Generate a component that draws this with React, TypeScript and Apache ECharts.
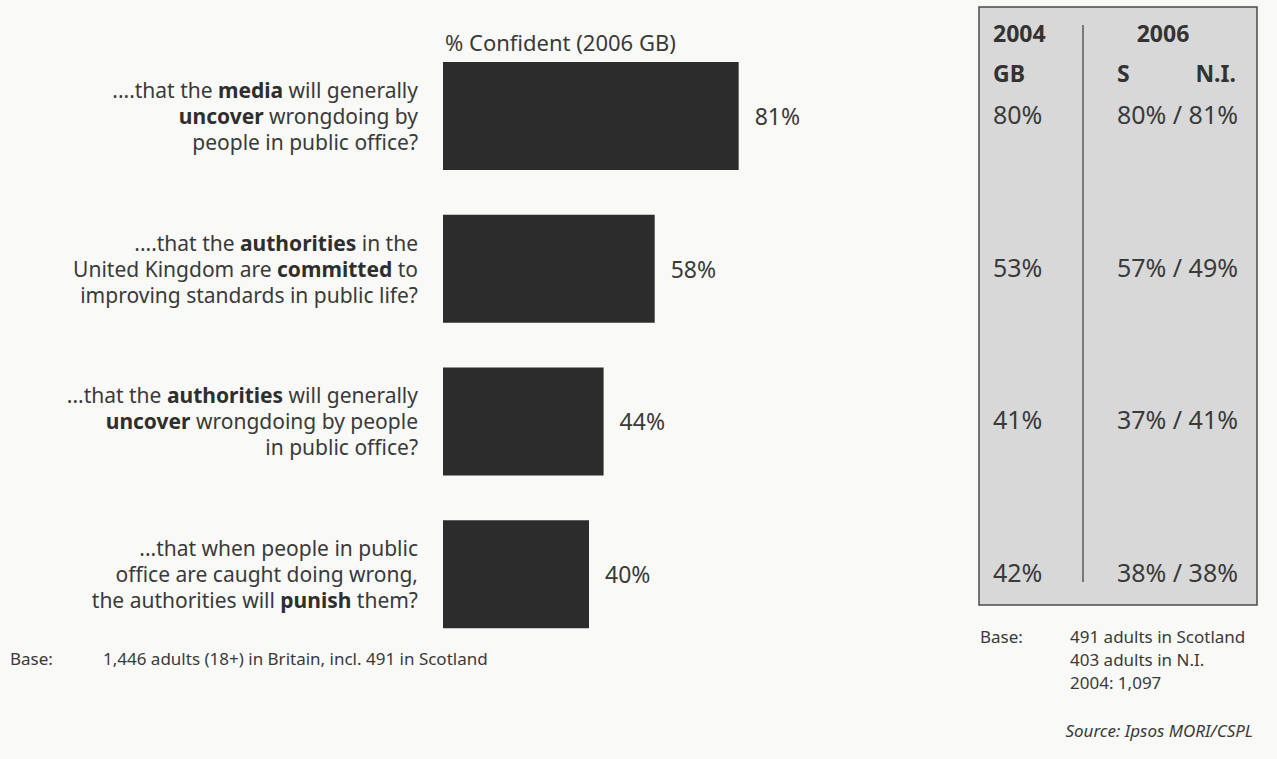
import React, { useEffect, useRef } from "react";
import * as echarts from "echarts";

const categories = [
  "....that the {b|media} will generally\n{b|uncover} wrongdoing by\npeople in public office?",
  "....that the {b|authorities} in the\nUnited Kingdom are {b|committed} to\nimproving standards in public life?",
  "...that the {b|authorities} will generally\n{b|uncover} wrongdoing by people\nin public office?",
  "...that when people in public\noffice are caught doing wrong,\nthe authorities will {b|punish} them?",
];
const confident2006GB = [81, 58, 44, 40];
const gb2004 = [80, 53, 41, 42];
const scotland2006 = [80, 57, 37, 38];
const ni2006 = [81, 49, 41, 38];

const FONT = "'Noto Sans', 'DejaVu Sans', sans-serif";
const TEXT = "#3a3a3a";

export default function App() {
  const ref = useRef<HTMLDivElement>(null);
  useEffect(() => {
    if (!ref.current) return;
    const chart = echarts.init(ref.current, undefined, { renderer: "svg" });
    const option: any = {
      animation: false,
      backgroundColor: "#f9f9f8",
      textStyle: { fontFamily: FONT },
      grid: { left: 443, right: 469, top: 39.5, bottom: 108.5 },
      xAxis: { type: "value", min: 0, max: 100, show: false },
      yAxis: {
        type: "category",
        inverse: true,
        data: categories,
        axisLine: { show: false },
        axisTick: { show: false },
        splitLine: { show: false },
        axisLabel: {
          margin: 25,
          align: "right",
          fontFamily: FONT,
          fontSize: 21,
          lineHeight: 26,
          color: TEXT,
          rich: {
            b: { fontFamily: FONT, fontSize: 21, lineHeight: 26, fontWeight: "bold", color: "#2e2e2e" },
          },
        },
      },
      series: [
        {
          type: "bar",
          data: confident2006GB,
          barWidth: 108,
          itemStyle: { color: "#2c2c2c" },
          label: {
            show: true,
            position: "right",
            distance: 16,
            formatter: "{c}%",
            fontFamily: FONT,
            fontSize: 23,
            color: TEXT,
          },
        },
      ],
    };
    chart.setOption(option);

    const ys = categories.map((_, i) => chart.convertToPixel({ yAxisIndex: 0 }, i) as number);
    const txt = (text: string, x: number, y: number, extra: any = {}) => ({
      type: "text",
      x,
      y,
      silent: true,
      style: {
        text,
        fontFamily: FONT,
        fontSize: 17,
        fill: TEXT,
        align: "left",
        verticalAlign: "middle",
        ...extra,
      },
    });
    const graphic: any[] = [
      txt("% Confident (2006 GB)", 445, 42, { fontSize: 22 }),
      txt("Base:", 10, 658),
      txt("1,446 adults (18+) in Britain, incl. 491 in Scotland", 103, 658),
      {
        type: "rect",
        silent: true,
        shape: { x: 979, y: 7, width: 278, height: 598 },
        style: { fill: "#d8d8d8", stroke: "#4a4a4a", lineWidth: 1.5 },
      },
      {
        type: "line",
        silent: true,
        shape: { x1: 1083, y1: 25, x2: 1083, y2: 582 },
        style: { stroke: "#3a3a3a", lineWidth: 1.2 },
      },
      txt("2004", 993, 33, { fontSize: 23, fontWeight: "bold", fill: "#333" }),
      txt("2006", 1163, 33, { fontSize: 23, fontWeight: "bold", fill: "#333", align: "center" }),
      txt("GB", 993, 73, { fontSize: 23, fontWeight: "bold", fill: "#333" }),
      txt("S", 1117, 73, { fontSize: 23, fontWeight: "bold", fill: "#333" }),
      txt("N.I.", 1236, 73, { fontSize: 23, fontWeight: "bold", fill: "#333", align: "right" }),
      txt("Base:", 980, 636),
      txt("491 adults in Scotland", 1070, 636),
      txt("403 adults in N.I.", 1070, 659),
      txt("2004: 1,097", 1070, 682),
      txt("Source: Ipsos MORI/CSPL", 1253, 730, { align: "right", fontStyle: "italic" }),
    ];
    ys.forEach((y, i) => {
      graphic.push(txt(gb2004[i] + "%", 993, y - 2, { fontSize: 25 }));
      graphic.push(
        txt(scotland2006[i] + "% / " + ni2006[i] + "%", 1238, y - 2, { fontSize: 25, align: "right" })
      );
    });
    chart.setOption({ graphic });
    return () => chart.dispose();
  }, []);
  return (
    <div
      ref={ref}
      style={{ position: "fixed", left: 0, top: 0, width: 1277, height: 759 }}
    />
  );
}
